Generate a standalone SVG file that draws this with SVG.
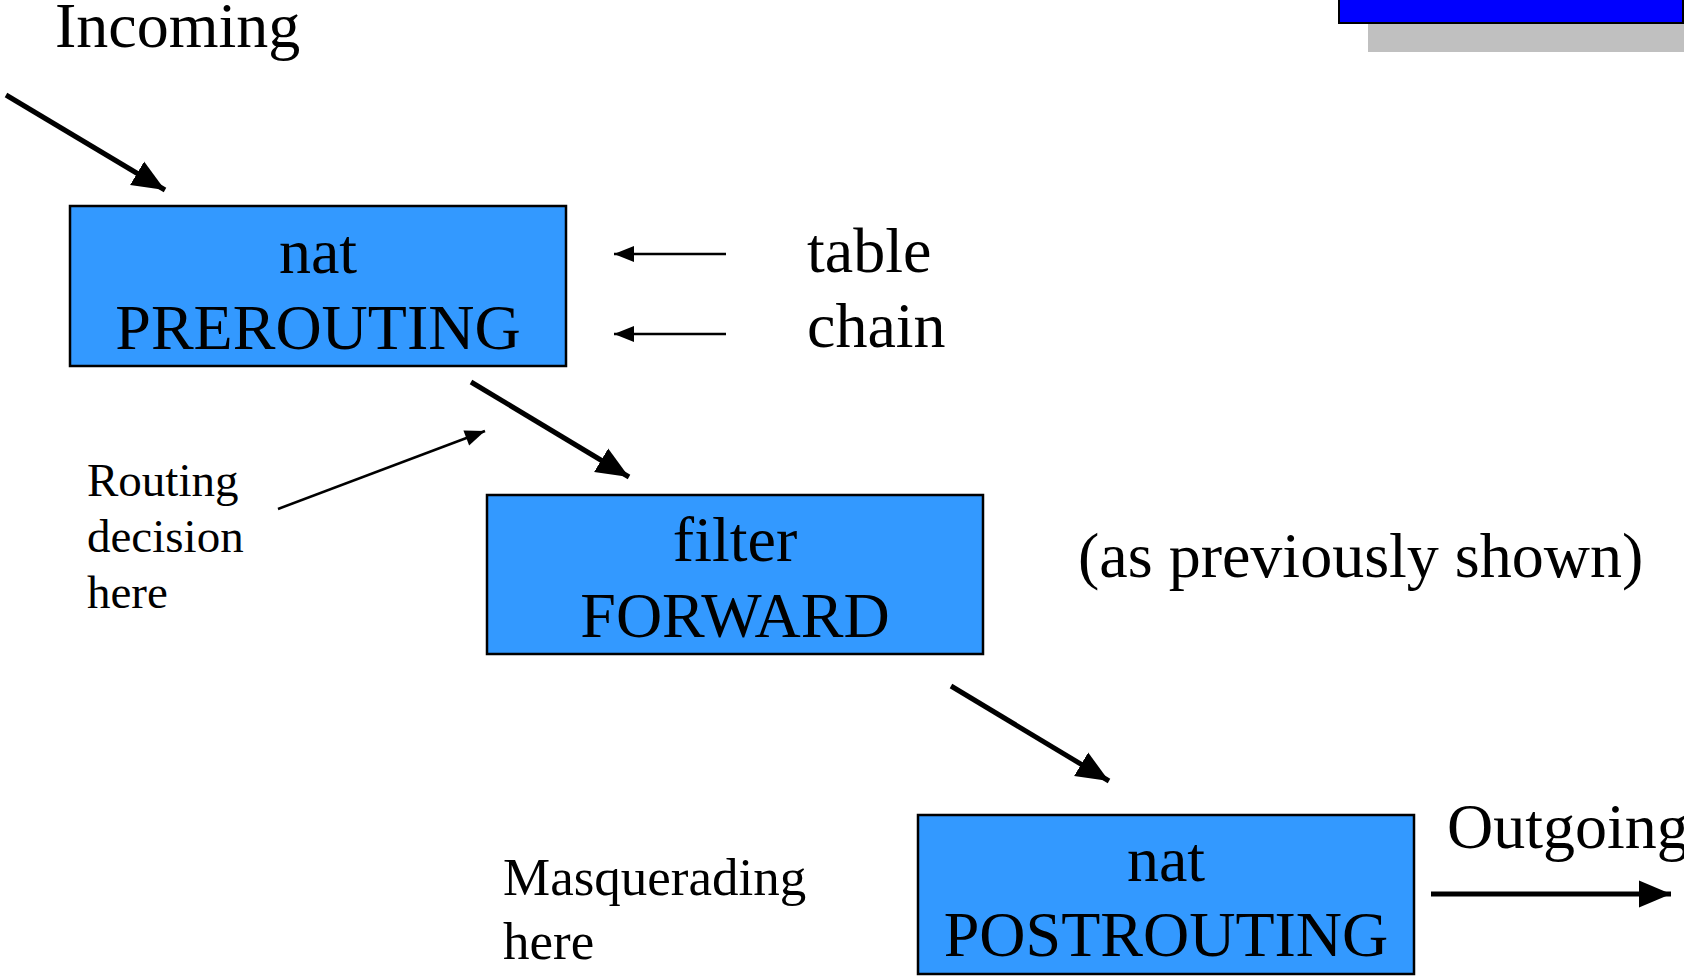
<svg xmlns="http://www.w3.org/2000/svg" width="1684" height="977" viewBox="0 0 1684 977">
<defs>
<style>
.box{fill:#3399FF;stroke:#000;stroke-width:2.5}
.t{font-family:"Liberation Serif","Times New Roman",serif;fill:#000}
.big{font-size:64px}
.mid{font-size:53px}
.sm{font-size:47px}
.thick{stroke:#000;stroke-width:5;fill:none}
.thin{stroke:#000;stroke-width:2.5;fill:none}
</style>
<marker id="ah" viewBox="0 0 10 10" refX="10" refY="5" markerWidth="6.5" markerHeight="6.5" markerUnits="strokeWidth" orient="auto"><path d="M0,0.8 L10,5 L0,9.2 z" fill="#000"/></marker>
<marker id="ahs" viewBox="0 0 10 10" refX="10" refY="5" markerWidth="9" markerHeight="8" markerUnits="strokeWidth" orient="auto"><path d="M0,1 L10,5 L0,9 z" fill="#000"/></marker>
</defs>
<rect width="1684" height="977" fill="#fff"/>
<g id="deco">
<rect x="1368" y="23" width="316" height="29" fill="#C0C0C0"/>
<rect x="1339" y="-2" width="344" height="25" fill="#0000FF" stroke="#000" stroke-width="2"/>
</g>
<g id="connectors">
<line class="thick" x1="6" y1="95" x2="165" y2="190" marker-end="url(#ah)"/>
<line class="thick" x1="471" y1="382" x2="629" y2="477" marker-end="url(#ah)"/>
<line class="thick" x1="951" y1="686" x2="1109" y2="781" marker-end="url(#ah)"/>
<line class="thick" x1="1431" y1="894" x2="1671" y2="894" marker-end="url(#ah)"/>
<line class="thin" x1="278" y1="509" x2="485" y2="431" marker-end="url(#ahs)"/>
<line class="thin" x1="726" y1="254" x2="614" y2="254" marker-end="url(#ahs)"/>
<line class="thin" x1="726" y1="334" x2="614" y2="334" marker-end="url(#ahs)"/>
</g>
<g id="prerouting">
<rect class="box" x="70" y="206" width="496" height="160"/>
<text class="t big" x="318" y="273" text-anchor="middle">nat</text>
<text class="t big" x="318" y="349" text-anchor="middle">PREROUTING</text>
</g>
<g id="forward">
<rect class="box" x="487" y="495" width="496" height="159"/>
<text class="t big" x="735" y="561" text-anchor="middle">filter</text>
<text class="t big" x="735" y="637" text-anchor="middle">FORWARD</text>
</g>
<g id="postrouting">
<rect class="box" x="918" y="815" width="496" height="159"/>
<text class="t big" x="1166" y="881" text-anchor="middle">nat</text>
<text class="t big" x="1166" y="956" text-anchor="middle">POSTROUTING</text>
</g>
<g id="labels">
<text class="t big" x="55" y="47">Incoming</text>
<text class="t big" x="807" y="272">table</text>
<text class="t big" x="807" y="347">chain</text>
<text class="t sm" x="87" y="496">Routing</text>
<text class="t sm" x="87" y="552">decision</text>
<text class="t sm" x="87" y="608">here</text>
<text class="t big" x="1078" y="577">(as previously shown)</text>
<text class="t mid" x="503" y="895">Masquerading</text>
<text class="t mid" x="503" y="959">here</text>
<text class="t big" x="1447" y="848">Outgoing</text>
</g>
</svg>
